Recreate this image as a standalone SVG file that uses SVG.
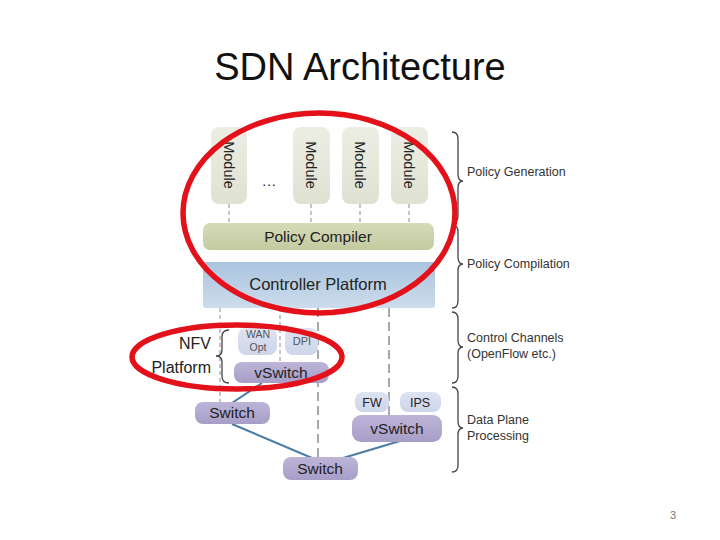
<svg xmlns="http://www.w3.org/2000/svg" width="720" height="540" viewBox="0 0 720 540">
<defs>
<linearGradient id="gMod" x1="0" y1="0" x2="0" y2="1"><stop offset="0" stop-color="#eceee4"/><stop offset="1" stop-color="#dfe2d2"/></linearGradient>
<linearGradient id="gPol" x1="0" y1="0" x2="0" y2="1"><stop offset="0" stop-color="#d6dbb8"/><stop offset="1" stop-color="#c3ca9f"/></linearGradient>
<linearGradient id="gCtl" x1="0" y1="0" x2="0" y2="1"><stop offset="0" stop-color="#a9c4de"/><stop offset="1" stop-color="#cddcec"/></linearGradient>
<linearGradient id="gSw" x1="0" y1="0" x2="0" y2="1"><stop offset="0" stop-color="#bdb5d8"/><stop offset="1" stop-color="#a79ec8"/></linearGradient>
<linearGradient id="gNf" x1="0" y1="0" x2="0" y2="1"><stop offset="0" stop-color="#dde3f1"/><stop offset="1" stop-color="#cdd5ea"/></linearGradient>
<style>
text{font-family:"Liberation Sans",Arial,sans-serif;fill:#222}
.mod{fill:url(#gMod)}
.sw{fill:url(#gSw)}
.nf{fill:url(#gNf)}
.dash{stroke:#a0a0a0;stroke-width:1.2;stroke-dasharray:4 3;fill:none}
.dash2{stroke:#a8a8a8;stroke-width:2;stroke-dasharray:9 5;fill:none}
.link{stroke:#4a7ca6;stroke-width:2;fill:none}
.brace{stroke:#444;stroke-width:1.3;fill:none}
.lbl{font-size:12.5px;fill:#333}
.red{stroke:#e3121a;stroke-width:5.5;fill:none}
</style>
</defs>
<rect width="720" height="540" fill="#fff"/>
<text x="360" y="80" font-size="38" text-anchor="middle" style="fill:#111">SDN Architecture</text>

<g id="connectors">
<path class="dash" d="M229 204V223M311 204V223M360 204V223M409 204V223"/>
<path class="dash" d="M220 308V402M280 308V362"/>
<path class="dash2" d="M318 308V457M389 308V415"/>
<path class="link" d="M262 383L232 403M232 424L312 458M400 441L343 458"/>
</g>

<g id="module1"><rect class="mod" x="211" y="127" width="36" height="77" rx="8"/><text transform="translate(229,165) rotate(90)" font-size="14.5" text-anchor="middle" dy="5">Module</text></g>
<g id="dots"><text x="269" y="186" font-size="15" text-anchor="middle">…</text></g>
<g id="module2"><rect class="mod" x="293" y="127" width="37" height="77" rx="8"/><text transform="translate(311,165) rotate(90)" font-size="14.5" text-anchor="middle" dy="5">Module</text></g>
<g id="module3"><rect class="mod" x="342" y="127" width="37" height="77" rx="8"/><text transform="translate(360,165) rotate(90)" font-size="14.5" text-anchor="middle" dy="5">Module</text></g>
<g id="module4"><rect class="mod" x="391" y="127" width="37" height="77" rx="8"/><text transform="translate(409,165) rotate(90)" font-size="14.5" text-anchor="middle" dy="5">Module</text></g>

<g id="policy-compiler"><rect x="203" y="223" width="231" height="27" rx="7" fill="url(#gPol)"/><text x="318" y="242" font-size="15.5" text-anchor="middle">Policy Compiler</text></g>
<g id="controller-platform"><rect x="203" y="262" width="232" height="46" rx="3" fill="url(#gCtl)"/><text x="318" y="290" font-size="16.5" text-anchor="middle">Controller Platform</text></g>

<g id="nfv-platform">
<text x="211" y="349" font-size="16" text-anchor="end">NFV</text>
<text x="211" y="373" font-size="16" text-anchor="end">Platform</text>
<path class="brace" d="M229 330Q222 330 222 337V350Q222 356 216 356Q222 356 222 362V376Q222 383 229 383"/>
</g>
<g id="wan-opt"><rect class="nf" x="238" y="328" width="39" height="27" rx="8"/><text x="258" y="338" font-size="10.5" text-anchor="middle" style="fill:#555">WAN</text><text x="258" y="351" font-size="10.5" text-anchor="middle" style="fill:#555">Opt</text></g>
<g id="dpi"><rect class="nf" x="285" y="328" width="33" height="27" rx="8"/><text x="302" y="345" font-size="11" text-anchor="middle" style="fill:#555">DPI</text></g>
<g id="vswitch-nfv"><rect class="sw" x="234" y="362" width="95" height="21" rx="8"/><text x="281" y="378" font-size="15.5" text-anchor="middle">vSwitch</text></g>
<g id="switch-left"><rect class="sw" x="195" y="402" width="75" height="22" rx="8"/><text x="232" y="418" font-size="15.5" text-anchor="middle">Switch</text></g>
<g id="fw"><rect class="nf" x="355" y="392" width="34" height="20" rx="8"/><text x="372" y="407" font-size="12.5" text-anchor="middle">FW</text></g>
<g id="ips"><rect class="nf" x="400" y="392" width="41" height="20" rx="8"/><text x="420" y="407" font-size="12.5" text-anchor="middle">IPS</text></g>
<g id="vswitch-right"><rect class="sw" x="352" y="415" width="90" height="27" rx="9"/><text x="397" y="434" font-size="15.5" text-anchor="middle">vSwitch</text></g>
<g id="switch-bottom"><rect class="sw" x="283" y="457" width="75" height="23" rx="8"/><text x="320" y="474" font-size="15.5" text-anchor="middle">Switch</text></g>

<g id="braces">
<path class="brace" d="M452 132Q458 132 458 139V174Q458 181 463 181Q458 181 458 188V216Q458 223 452 223"/>
<path class="brace" d="M452 225Q458 225 458 232V257Q458 264 463 264Q458 264 458 271V301Q458 308 452 308"/>
<path class="brace" d="M452 312Q458 312 458 319V340Q458 347 463 347Q458 347 458 354V376Q458 383 452 383"/>
<path class="brace" d="M452 387Q458 387 458 394V421Q458 428 463 428Q458 428 458 435V465Q458 472 452 472"/>
</g>
<g id="labels">
<text class="lbl" x="467" y="176">Policy Generation</text>
<text class="lbl" x="467" y="268">Policy Compilation</text>
<text class="lbl" x="467" y="342">Control Channels</text>
<text class="lbl" x="467" y="358">(OpenFlow etc.)</text>
<text class="lbl" x="467" y="424">Data Plane</text>
<text class="lbl" x="467" y="440">Processing</text>
</g>

<g id="highlights">
<ellipse class="red" cx="319" cy="213" rx="136" ry="100"/>
<ellipse class="red" cx="237" cy="357" rx="105" ry="32"/>
</g>
<text x="673" y="519" font-size="11" text-anchor="middle" style="fill:#777">3</text>
</svg>
